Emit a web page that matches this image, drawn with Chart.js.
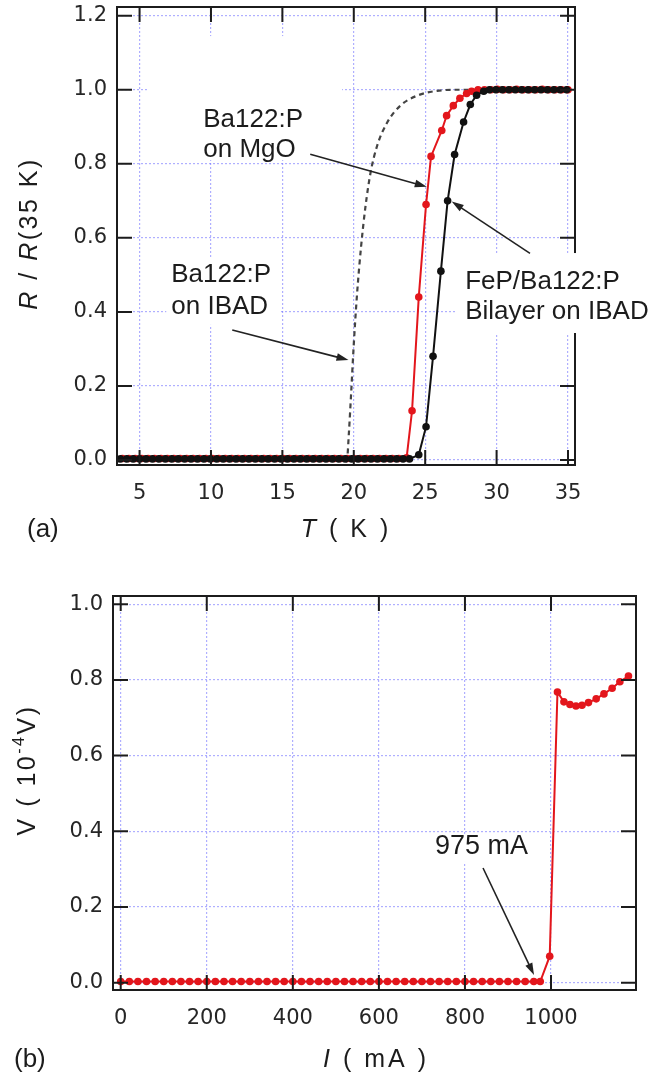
<!DOCTYPE html>
<html lang="en">
<head>
  <meta charset="UTF-8">
  <title>Ba122:P superconducting transition</title>
  <script src="https://cdn.jsdelivr.net/npm/chart.js@4"></script>
  <style>
    html, body { margin: 0; padding: 0; background: #fff; }
    body { width: 664px; height: 1079px; position: relative; overflow: hidden; }
    canvas { position: absolute; left: 0; }
    #panel-a { top: 0; }
    #panel-b { top: 545px; }
  </style>
</head>
<body>
  <canvas id="panel-a" width="664" height="545"></canvas>
  <canvas id="panel-b" width="664" height="534"></canvas>

  <script>
    // ---- panel (a): R/R(35K) vs T ----
    const tickT = [5, 10, 15, 20, 25, 30, 35];
    const tickR = [0, 0.2, 0.4, 0.6, 0.8, 1.0, 1.2];

    // Ba122:P on MgO (red)
    const tempRed = [
      3.8, 4.25, 4.7, 5.15, 5.6, 6.05, 6.5, 6.95, 7.4, 7.85,
      8.3, 8.75, 9.2, 9.65, 10.1, 10.55, 11.0, 11.45, 11.9, 12.35,
      12.8, 13.25, 13.7, 14.15, 14.6, 15.05, 15.5, 15.95, 16.4, 16.85,
      17.3, 17.75, 18.2, 18.65, 19.1, 19.55, 20.0, 20.45, 20.9, 21.35,
      21.8, 22.25, 22.7, 23.15,
      23.7, 24.08, 24.55, 25.06, 25.41, 26.16, 26.5, 26.97, 27.43, 27.9, 28.25,
      28.7, 29.15, 29.6, 30.05, 30.5, 30.95, 31.4, 31.85, 32.3, 32.75,
      33.2, 33.65, 34.1, 34.55, 35.0
    ];
    const rRed = [
      0.004, 0.004, 0.004, 0.004, 0.004, 0.004, 0.004, 0.004, 0.004, 0.004,
      0.004, 0.004, 0.004, 0.004, 0.004, 0.004, 0.004, 0.004, 0.004, 0.004,
      0.004, 0.004, 0.004, 0.004, 0.004, 0.004, 0.004, 0.004, 0.004, 0.004,
      0.004, 0.004, 0.004, 0.004, 0.004, 0.004, 0.004, 0.004, 0.004, 0.004,
      0.004, 0.004, 0.004, 0.004,
      0.006, 0.133, 0.44, 0.69, 0.82, 0.89, 0.93, 0.957, 0.977, 0.99, 0.996,
      1.0, 1.0, 1.0, 1.001, 1.0, 1.0, 1.001, 1.0, 1.0, 1.0,
      1.001, 1.0, 1.0, 1.0, 1.0
    ];

    // FeP/Ba122:P bilayer on IBAD (black)
    const tempBlack = [
      3.65, 4.1, 4.55, 5.0, 5.45, 5.9, 6.35, 6.8, 7.25, 7.7,
      8.15, 8.6, 9.05, 9.5, 9.95, 10.4, 10.85, 11.3, 11.75, 12.2,
      12.65, 13.1, 13.55, 14.0, 14.45, 14.9, 15.35, 15.8, 16.25, 16.7,
      17.15, 17.6, 18.05, 18.5, 18.95, 19.4, 19.85, 20.3, 20.75, 21.2,
      21.65, 22.1, 22.55, 23.0, 23.45, 23.9,
      24.55, 25.06, 25.55, 26.1, 26.57, 27.06, 27.69, 28.16, 28.6, 29.1,
      29.5, 29.95, 30.4, 30.85, 31.3, 31.75, 32.2, 32.65, 33.1, 33.55,
      34.0, 34.45, 34.9
    ];
    const rBlack = [
      0.003, 0.003, 0.003, 0.003, 0.003, 0.003, 0.003, 0.003, 0.003, 0.003,
      0.003, 0.003, 0.003, 0.003, 0.003, 0.003, 0.003, 0.003, 0.003, 0.003,
      0.003, 0.003, 0.003, 0.003, 0.003, 0.003, 0.003, 0.003, 0.003, 0.003,
      0.003, 0.003, 0.003, 0.003, 0.003, 0.003, 0.003, 0.003, 0.003, 0.003,
      0.003, 0.003, 0.003, 0.003, 0.003, 0.003,
      0.014, 0.09, 0.28, 0.51, 0.70, 0.825, 0.913, 0.96, 0.985, 0.996,
      1.0, 1.0, 1.0, 1.0, 1.0, 1.0, 1.0, 1.0, 1.0, 1.0,
      1.0, 1.0, 1.0
    ];

    // Ba122:P on IBAD (dashed, no markers)
    const tempDash = [19.45, 19.53, 19.65, 19.81, 20.0, 20.23, 20.51, 20.82, 21.17, 21.63, 22.33, 23.26, 24.43, 25.83, 27.23, 28.5];
    const rDash = [-0.005, 0.0, 0.068, 0.177, 0.313, 0.449, 0.576, 0.685, 0.775, 0.848, 0.911, 0.957, 0.984, 0.997, 1.0, 1.0];

    // ---- panel (b): V vs I ----
    const tickI = [0, 200, 400, 600, 800, 1000];
    const tickV = [0, 0.2, 0.4, 0.6, 0.8, 1.0];
    const currentI = [
      0, 20, 40, 60, 80, 100, 120, 140, 160, 180,
      200, 220, 240, 260, 280, 300, 320, 340, 360, 380,
      400, 420, 440, 460, 480, 500, 520, 540, 560, 580,
      600, 620, 640, 660, 680, 700, 720, 740, 760, 780,
      800, 820, 840, 860, 880, 900, 920, 940, 960, 975,
      997, 1015, 1030, 1044, 1058, 1072, 1087, 1105, 1123, 1142, 1160, 1180
    ];
    const voltageV = [
      0.003, 0.003, 0.003, 0.003, 0.003, 0.003, 0.003, 0.003, 0.003, 0.003,
      0.003, 0.003, 0.003, 0.003, 0.003, 0.003, 0.003, 0.003, 0.003, 0.003,
      0.003, 0.003, 0.003, 0.003, 0.003, 0.003, 0.003, 0.003, 0.003, 0.003,
      0.003, 0.003, 0.003, 0.003, 0.003, 0.003, 0.003, 0.003, 0.003, 0.003,
      0.003, 0.003, 0.003, 0.003, 0.003, 0.003, 0.003, 0.003, 0.003, 0.003,
      0.07, 0.768, 0.742, 0.735, 0.731, 0.733, 0.74, 0.75, 0.763, 0.778, 0.795, 0.81
    ];

    const RED = '#e3161c';
    const GRID = 'rgba(110,110,255,0.55)';
    const INK = '#1c1c1c';
    const TICK_FONT = { family: 'DejaVu Sans', size: 21 };
    const NOTE_FONT = '26px "Liberation Sans", Arial, sans-serif';

    const toPoints = (xs, ys) => xs.map((x, i) => ({ x: x, y: ys[i] }));

    // draws a line of text made of runs (italic / superscript pieces)
    function drawRuns(ctx, runs, x, y, opts) {
      const size = opts.size || 24;
      ctx.save();
      ctx.letterSpacing = (opts.spacing || 0) + 'px';
      ctx.fillStyle = INK;
      ctx.textBaseline = 'middle';
      ctx.textAlign = 'left';
      const fontOf = r => (r.it ? 'italic ' : '') + (r.sup ? Math.round(size * 0.62) : size) + 'px "Liberation Sans", Arial, sans-serif';
      let total = 0;
      runs.forEach(r => { ctx.font = fontOf(r); r.w = ctx.measureText(r.t).width; total += r.w; });
      ctx.translate(x, y);
      if (opts.rotate) ctx.rotate(-Math.PI / 2);
      let cx = opts.align === 'left' ? 0 : -total / 2;
      runs.forEach(r => {
        ctx.font = fontOf(r);
        ctx.fillText(r.t, cx, r.sup ? -size * 0.33 : 0);
        cx += r.w;
      });
      ctx.restore();
    }

    function drawArrow(ctx, x0, y0, x1, y1) {
      const ang = Math.atan2(y1 - y0, x1 - x0);
      const len = 12, half = 3.8;
      ctx.beginPath();
      ctx.moveTo(x0, y0);
      ctx.lineTo(x1 - Math.cos(ang) * len * 0.8, y1 - Math.sin(ang) * len * 0.8);
      ctx.stroke();
      ctx.beginPath();
      ctx.moveTo(x1, y1);
      ctx.lineTo(x1 - Math.cos(ang) * len + Math.sin(ang) * half, y1 - Math.sin(ang) * len - Math.cos(ang) * half);
      ctx.lineTo(x1 - Math.cos(ang) * len - Math.sin(ang) * half, y1 - Math.sin(ang) * len + Math.cos(ang) * half);
      ctx.closePath();
      ctx.fill();
    }

    // frame with inward ticks, annotation boxes, arrows and titles
    function decor(cfg) {
      return {
        id: 'decor',
        afterDraw(chart) {
          const { ctx, chartArea: a } = chart;
          const sx = chart.scales.x, sy = chart.scales.y;
          ctx.save();
          ctx.strokeStyle = INK;
          ctx.lineWidth = 2;
          ctx.strokeRect(a.left, a.top, a.right - a.left, a.bottom - a.top);
          ctx.beginPath();
          sx.ticks.forEach(t => {
            const px = sx.getPixelForValue(t.value);
            ctx.moveTo(px, a.bottom); ctx.lineTo(px, a.bottom - cfg.tickLen);
            ctx.moveTo(px, a.top); ctx.lineTo(px, a.top + cfg.tickLen);
          });
          sy.ticks.forEach(t => {
            const py = sy.getPixelForValue(t.value);
            ctx.moveTo(a.left, py); ctx.lineTo(a.left + cfg.tickLen, py);
            ctx.moveTo(a.right, py); ctx.lineTo(a.right - cfg.tickLen, py);
          });
          ctx.stroke();

          // notes with white backing boxes
          cfg.notes.forEach(n => {
            const bx0 = sx.getPixelForValue(n.box[0]), bx1 = sx.getPixelForValue(n.box[1]);
            const by0 = sy.getPixelForValue(n.box[2]), by1 = sy.getPixelForValue(n.box[3]);
            ctx.fillStyle = '#fff';
            ctx.fillRect(bx0, by0, bx1 - bx0, by1 - by0);
            ctx.fillStyle = INK;
            ctx.font = n.font || NOTE_FONT;
            ctx.textBaseline = 'middle';
            ctx.textAlign = 'left';
            const px = sx.getPixelForValue(n.x);
            n.lines.forEach((line, i) => {
              ctx.fillText(line, px, sy.getPixelForValue(n.ys[i]));
            });
          });

          ctx.strokeStyle = '#222';
          ctx.fillStyle = '#222';
          ctx.lineWidth = 1.6;
          cfg.arrows.forEach(ar => {
            drawArrow(ctx,
              sx.getPixelForValue(ar[0]), sy.getPixelForValue(ar[1]),
              sx.getPixelForValue(ar[2]), sy.getPixelForValue(ar[3]));
          });
          ctx.restore();

          cfg.titles.forEach(t => drawRuns(ctx, t.runs, t.x, t.y, t));
        }
      };
    }

    function axisOpts(min, max, ticks, fmt, size, pad, isX) {
      return {
        type: 'linear',
        min: min,
        max: max,
        afterBuildTicks: s => { s.ticks = ticks.map(v => ({ value: v })); },
        afterFit: s => {
          if (isX) s.height = size; else s.width = size;
          s.paddingLeft = 0; s.paddingRight = 0; s.paddingTop = 0; s.paddingBottom = 0;
        },
        ticks: { padding: pad, font: TICK_FONT, color: '#262626', autoSkip: false, maxRotation: 0, callback: fmt },
        grid: { color: GRID, lineWidth: 1.2, drawTicks: false },
        border: { display: false, dash: [2, 2] }
      };
    }

    const baseOpts = {
      responsive: false,
      animation: false,
      events: [],
      plugins: { legend: { display: false }, tooltip: { enabled: false } }
    };

    new Chart(document.getElementById('panel-a'), {
      type: 'scatter',
      data: {
        datasets: [
          {
            label: 'FeP/Ba122:P Bilayer on IBAD',
            data: toPoints(tempBlack, rBlack),
            showLine: true, borderColor: '#111', backgroundColor: '#111',
            borderWidth: 2, pointRadius: 3.8, pointBorderWidth: 0, order: 0
          },
          {
            label: 'Ba122:P on MgO',
            data: toPoints(tempRed, rRed),
            showLine: true, borderColor: RED, backgroundColor: RED,
            borderWidth: 2, pointRadius: 3.8, pointBorderWidth: 0, order: 1
          },
          {
            label: 'Ba122:P on IBAD',
            data: toPoints(tempDash, rDash),
            showLine: true, borderColor: '#444', borderDash: [5, 4],
            borderWidth: 2.2, pointRadius: 0, cubicInterpolationMode: 'monotone', order: 2
          }
        ]
      },
      options: Object.assign({}, baseOpts, {
        layout: { padding: { top: 7, right: 89, left: 0, bottom: 0 } },
        scales: {
          x: axisOpts(3.42, 35.49, tickT, v => String(v), 80, 16, true),
          y: axisOpts(-0.0135, 1.2235, tickR, v => v.toFixed(1), 117, 10, false)
        }
      }),
      plugins: [decor({
        tickLen: 15,
        notes: [
          { lines: ['Ba122:P', 'on MgO'], x: 9.46, ys: [0.918, 0.837], box: [5.54, 19.18, 1.145, 0.81] },
          { lines: ['Ba122:P', 'on IBAD'], x: 7.22, ys: [0.5, 0.413], box: [6.87, 14.85, 0.546, 0.365] },
          { lines: ['FeP/Ba122:P', 'Bilayer on IBAD'], x: 27.8, ys: [0.482, 0.40], box: [27.09, 41.7, 0.559, 0.343] }
        ],
        arrows: [
          [16.95, 0.826, 25.11, 0.738],
          [11.49, 0.351, 19.63, 0.27],
          [32.34, 0.558, 26.86, 0.698]
        ],
        titles: [
          { runs: [{ t: 'R', it: true }, { t: ' / ' }, { t: 'R', it: true }, { t: '(35 K)' }], x: 30, y: 233.5, rotate: true, size: 25, spacing: 2.5 },
          { runs: [{ t: 'T', it: true }, { t: ' ( K )' }], x: 346, y: 530, size: 25, spacing: 3 },
          { runs: [{ t: '(a)' }], x: 27, y: 530, size: 26, align: 'left' }
        ]
      })]
    });

    new Chart(document.getElementById('panel-b'), {
      type: 'scatter',
      data: {
        datasets: [
          {
            label: 'V',
            data: toPoints(currentI, voltageV),
            showLine: true, borderColor: RED, backgroundColor: RED,
            borderWidth: 2, pointRadius: 3.8, pointBorderWidth: 0
          }
        ]
      },
      options: Object.assign({}, baseOpts, {
        layout: { padding: { top: 51, right: 28, left: 0, bottom: 0 } },
        scales: {
          x: axisOpts(-17.9, 1197.5, tickI, v => String(v), 89, 16, true),
          y: axisOpts(-0.0193, 1.0217, tickV, v => v.toFixed(1), 113, 10, false)
        }
      }),
      plugins: [decor({
        tickLen: 15,
        notes: [
          { lines: ['975 mA'], x: 730.5, ys: [0.359], box: [718.8, 960, 0.393, 0.319], font: '27px "Liberation Sans", Arial, sans-serif' }
        ],
        arrows: [
          [842, 0.303, 960.5, 0.0203]
        ],
        titles: [
          { runs: [{ t: 'V' }, { t: ' ( 10' }, { t: '-4', sup: true }, { t: 'V)' }], x: 28, y: 225, rotate: true, size: 25, spacing: 2.5 },
          { runs: [{ t: 'I', it: true }, { t: ' ( mA )' }], x: 376, y: 515, size: 25, spacing: 3 },
          { runs: [{ t: '(b)' }], x: 14, y: 515, size: 26, align: 'left' }
        ]
      })]
    });
  </script>
</body>
</html>
